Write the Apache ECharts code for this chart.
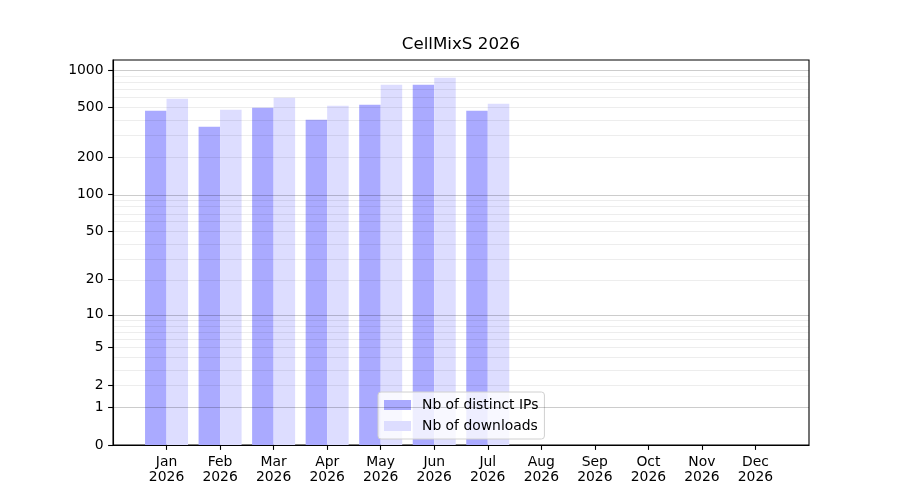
<!DOCTYPE html>
<html>
<head>
    <meta charset="utf-8">
    <title>CellMixS 2026</title>
    <script src="https://cdn.jsdelivr.net/npm/echarts@6/dist/echarts.min.js"></script>
    <style>
        body { margin: 0; background: #fff; }
    </style>
</head>
<body>
    <div id="main" style="width: 900px;height:500px;"></div>
    <script type="text/javascript">
        // data
        var months = ['Jan', 'Feb', 'Mar', 'Apr', 'May', 'Jun', 'Jul', 'Aug', 'Sep', 'Oct', 'Nov', 'Dec'];
        var year = '2026';
        var distinctIPs = [471, 351, 498, 399, 526, 762, 471];
        var downloads = [588, 480, 600, 517, 762, 867, 537];
        var yTicks = [0, 1, 2, 5, 10, 20, 50, 100, 200, 500, 1000];

        // y axis is log10(1 + v)
        function tr(v) { return Math.log10(1 + v); }
        function inv(t) { return Math.round(Math.pow(10, t) - 1); }

        var majorGrid = [1, 10, 100, 1000];
        var minorGrid = [];
        [1, 10, 100].forEach(function (d) {
            for (var k = 2; k <= 9; k++) minorGrid.push(k * d);
        });

        var monthIdx = months.map(function (m, i) { return i; });

        var chartDom = document.getElementById('main');
        var myChart = echarts.init(chartDom, null, {renderer: 'canvas'});
        var font = "'DejaVu Sans', sans-serif";

        var option = {
            animation: false,
            textStyle: { fontFamily: font },
            title: {
                text: 'CellMixS 2026',
                left: 461,
                textAlign: 'center',
                top: 36,
                padding: 0,
                textStyle: { fontFamily: font, fontSize: 16.7, fontWeight: 'normal', color: '#000' }
            },
            legend: {
                orient: 'vertical',
                left: 378,
                top: 392,
                padding: [5, 6, 5, 6],
                itemWidth: 27,
                itemHeight: 10,
                itemGap: 5,
                backgroundColor: 'rgba(255,255,255,0.8)',
                borderColor: '#d0d0d0',
                borderWidth: 1,
                borderRadius: 3,
                icon: 'rect',
                textStyle: { fontFamily: font, fontSize: 13.9, color: '#000', lineHeight: 16, padding: [0, 0, 0, 6] },
                data: ['Nb of distinct IPs', 'Nb of downloads']
            },
            grid: {
                left: 113,
                right: 91,
                top: 60,
                bottom: 55,
                show: true,
                borderColor: '#000',
                borderWidth: 1.1,
                backgroundColor: 'transparent'
            },
            xAxis: {
                type: 'value',
                min: -1,
                max: 12,
                interval: 1,
                splitLine: { show: false },
                axisLine: { show: true, onZero: false, lineStyle: { color: '#000', width: 1.1 } },
                axisTick: { show: true, inside: false, length: 4.9, customValues: monthIdx, lineStyle: { color: '#000', width: 1.1 } },
                axisLabel: {
                    customValues: monthIdx,
                    margin: 9.5,
                    fontFamily: font,
                    fontSize: 13.9,
                    lineHeight: 15.5,
                    color: '#000',
                    formatter: function (v) { return months[v] + '\n' + year; }
                }
            },
            yAxis: {
                type: 'value',
                min: 0,
                max: 3.08,
                splitLine: { show: false },
                axisLine: { show: true, onZero: false, lineStyle: { color: '#000', width: 1.1 } },
                axisTick: { show: true, inside: false, length: 4.9, customValues: yTicks.map(tr), lineStyle: { color: '#000', width: 1.1 } },
                axisLabel: {
                    customValues: yTicks.map(tr),
                    margin: 9.5,
                    fontFamily: font,
                    fontSize: 13.9,
                    color: '#000',
                    formatter: function (v) { return String(inv(v)); }
                }
            },
            series: [
                {
                    name: 'Nb of distinct IPs',
                    type: 'bar',
                    barWidth: 21.5,
                    barGap: '0%',
                    itemStyle: { color: '#aaaaff' },
                    data: distinctIPs.map(function (v, i) { return [i, tr(v)]; })
                },
                {
                    name: 'Nb of downloads',
                    type: 'bar',
                    barWidth: 21.5,
                    barGap: '0%',
                    itemStyle: { color: '#ddddff' },
                    data: downloads.map(function (v, i) { return [i, tr(v)]; })
                },
                {
                    name: 'grid',
                    type: 'line',
                    data: [],
                    z: 5,
                    silent: true,
                    markLine: {
                        silent: true,
                        symbol: 'none',
                        label: { show: false },
                        data: minorGrid.map(function (v) {
                            return { yAxis: tr(v), lineStyle: { color: 'rgba(0,0,0,0.07)', width: 1, type: 'solid' } };
                        }).concat(majorGrid.map(function (v) {
                            return { yAxis: tr(v), lineStyle: { color: 'rgba(0,0,0,0.2)', width: 1, type: 'solid' } };
                        }))
                    }
                }
            ]
        };
        myChart.setOption(option);
    </script>
</body>
</html>
